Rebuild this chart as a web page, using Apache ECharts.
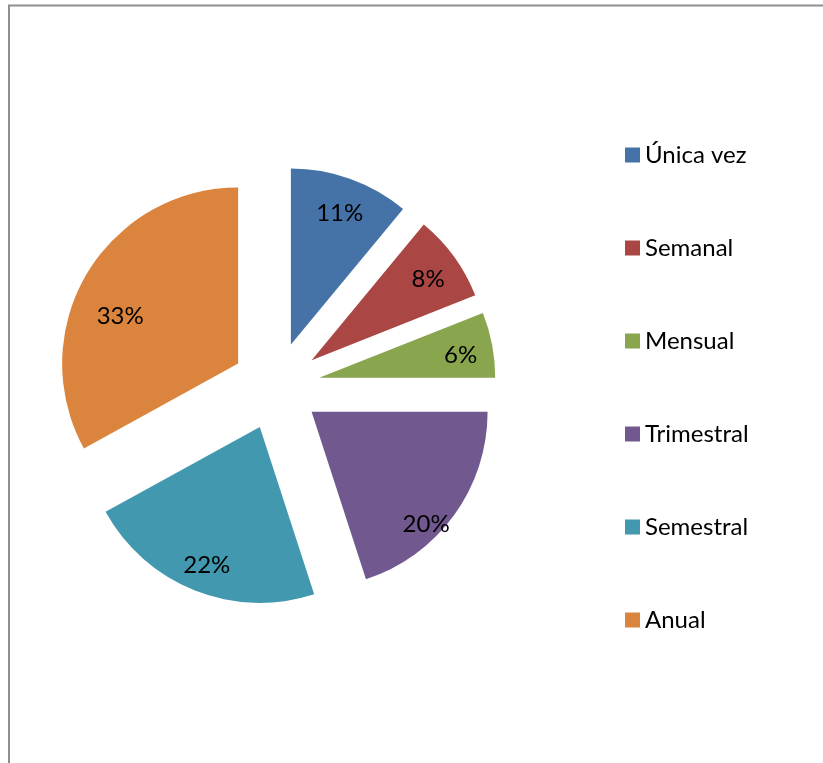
<!DOCTYPE html>
<html>
<head>
<meta charset="utf-8">
<script src="https://cdn.jsdelivr.net/npm/echarts@6/dist/echarts.min.js"></script>
<style>
  html, body { margin: 0; padding: 0; background: #fff; }
  #chart { width: 823px; height: 763px; }
</style>
</head>
<body>
<div id="chart"></div>
<script>
// frecuencia de uso (porcentajes)
const categories = ['Única vez', 'Semanal', 'Mensual', 'Trimestral', 'Semestral', 'Anual']
const values = [11, 8, 6, 20, 22, 33]
const colors = ['#4572A7', '#AA4643', '#89A54E', '#71588F', '#4198AF', '#DB843D']

const center = [276, 386]
const offset = 44
// Excel coloca algunas etiquetas un poco fuera del centro del sector
const labelNudge = {
  'Trimestral': [-2, 28],
  'Anual': [6, 26],
}

const chart = echarts.init(document.getElementById('chart'))
chart.setOption({
  animation: false,
  textStyle: { fontFamily: 'Lato' },
  graphic: [
    {
      type: 'rect',
      shape: { x: 9, y: 5.5, width: 1000, height: 1000 },
      style: { fill: 'none', stroke: '#8e8e8e', lineWidth: 2 },
      silent: true,
    },
  ],
  legend: {
    orient: 'vertical',
    left: 620,
    top: 138,
    itemWidth: 15,
    itemHeight: 15,
    itemGap: 69,
    icon: 'rect',
    data: categories,
    textStyle: {
      fontFamily: 'Lato',
      fontSize: 24,
      lineHeight: 24,
      color: '#000',
    },
  },
  series: [
    {
      name: 'frecuencia',
      type: 'pie',
      center: center,
      radius: [0, 176],
      startAngle: 90,
      clockwise: true,
      selectedMode: 'multiple',
      selectedOffset: offset,
      data: categories.map((name, i) => ({
        name: name,
        value: values[i],
        selected: true,
        itemStyle: { color: colors[i] },
      })),
      label: { show: false },
      labelLine: { show: false },
      emphasis: { disabled: true },
      silent: true,
    },
    {
      // serie transparente solo para colocar las etiquetas
      name: 'etiquetas',
      type: 'pie',
      center: center,
      radius: [106, 176],
      startAngle: 90,
      clockwise: true,
      selectedMode: 'multiple',
      selectedOffset: offset,
      data: categories.map((name, i) => ({
        name: name,
        value: values[i],
        selected: true,
      })),
      itemStyle: { color: 'rgba(0,0,0,0)' },
      label: {
        show: true,
        position: 'inside',
        formatter: '{d}%',
        fontFamily: 'Lato',
        fontSize: 24,
        color: '#000',
      },
      labelLayout: function (params) {
        const n = labelNudge[categories[params.dataIndex]] || [0, 4]
        return { dx: n[0], dy: n[1] }
      },
      labelLine: { show: false },
      emphasis: { disabled: true },
      silent: true,
    },
  ],
})
</script>
</body>
</html>
